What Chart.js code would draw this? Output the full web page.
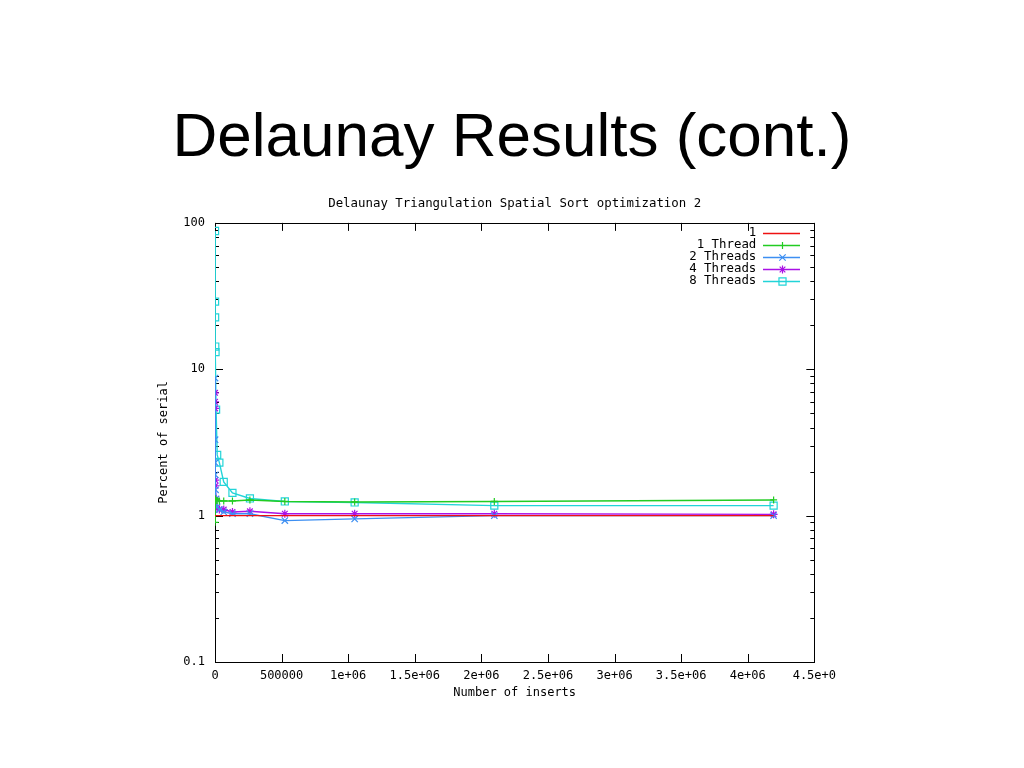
<!DOCTYPE html>
<html lang="en">
<head>
  <meta charset="UTF-8" />
  <title>Delaunay Results (cont.)</title>
  <script src="https://cdn.jsdelivr.net/npm/chart.js"></script>
  <style>
    body { margin: 0; width: 1024px; height: 768px; background: #fff; position: relative; overflow: hidden; }
    h1 { position: absolute; left: 0; top: 104px; width: 1024px; margin: 0; text-align: center;
         font: normal 62px/62px "Liberation Sans", Arial, sans-serif; color: #000; }
    #wrap { position: absolute; left: 140px; top: 190px; width: 703px; height: 520px; }
  </style>
</head>
<body>
  <h1>Delaunay Results (cont.)</h1>
  <div id="wrap"><canvas id="chart"></canvas></div>

  <script>
    // number of inserts (x) and percent of serial (y) per series
    const insertCounts = [256, 512, 1024, 2048, 4096, 8192, 16384, 32768, 65536, 131072, 262144, 524288, 1048576, 2097152, 4194304];
    const serialBaseline = [1, 1, 1, 1, 1, 1, 1, 1, 1, 1, 1, 1, 1, 1, 1];
    const oneThread    = [0.9, 1.3, 1.3, 1.28, 1.27, 1.27, 1.27, 1.26, 1.26, 1.26, 1.28, 1.25, 1.24, 1.25, 1.28];
    const twoThreads   = [8.7, 3.3, 2.3, 1.9, 1.5, 1.3, 1.15, 1.1, 1.06, 1.03, 1.03, 0.925, 0.95, 1.0, 1.0];
    const fourThreads  = [6.9, 6.0, 5.4, 1.75, 1.6, 1.3, 1.12, 1.1, 1.1, 1.06, 1.07, 1.03, 1.03, 1.03, 1.02];
    const eightThreads = [88, 29, 22.6, 14.3, 13.1, 5.3, 2.6, 2.3, 1.7, 1.43, 1.31, 1.25, 1.23, 1.17, 1.17];

    const seriesLabels = ['1', '1 Thread', '2 Threads', '4 Threads', '8 Threads'];
    const xTickValues = [0, 500000, 1000000, 1500000, 2000000, 2500000, 3000000, 3500000, 4000000, 4500000];
    const xTickLabels = ['0', '500000', '1e+06', '1.5e+06', '2e+06', '2.5e+06', '3e+06', '3.5e+06', '4e+06', '4.5e+0'];
    const yTickValues = [0.1, 1, 10, 100];
    const yTickLabels = ['0.1', '1', '10', '100'];

    const MONO = '"DejaVu Sans Mono", "Liberation Mono", monospace';
    const toPoints = ys => insertCounts.map((x, i) => ({ x, y: ys[i] }));

    function series(label, ys, color, style, radius) {
      return {
        label, data: toPoints(ys),
        borderColor: color, borderWidth: 1.4, tension: 0,
        pointStyle: style || false, pointRadius: radius || 0,
        pointBorderColor: color, pointBackgroundColor: 'rgba(0,0,0,0)', pointBorderWidth: 1.2
      };
    }

    // gnuplot border + inward ticks on all sides
    const gnuplotFrame = {
      id: 'gnuplotFrame',
      beforeDatasetsDraw(chart) {
        const { ctx, chartArea: a, scales: { x, y } } = chart;
        ctx.save();
        ctx.strokeStyle = '#000';
        ctx.lineWidth = 1;
        ctx.beginPath();
        xTickValues.forEach(v => {
          const px = Math.round(x.getPixelForValue(v)) + 0.5;
          ctx.moveTo(px, a.bottom); ctx.lineTo(px, a.bottom - 8);
          ctx.moveTo(px, a.top);    ctx.lineTo(px, a.top + 8);
        });
        yTickValues.forEach((d, k) => {
          const steps = k < yTickValues.length - 1 ? 9 : 1;
          for (let m = 1; m <= steps; m++) {
            const py = Math.round(y.getPixelForValue(m * d)) + 0.5;
            const len = m === 1 ? 8 : 4;
            ctx.moveTo(a.left, py);  ctx.lineTo(a.left + len, py);
            ctx.moveTo(a.right, py); ctx.lineTo(a.right - len, py);
          }
        });
        ctx.stroke();
        ctx.strokeRect(Math.round(a.left) + 0.5, Math.round(a.top) + 0.5, Math.round(a.width), Math.round(a.height));
        ctx.restore();
      }
    };

    // gnuplot-style key: right aligned text, sample line with marker to its right
    const gnuplotKey = {
      id: 'gnuplotKey',
      afterDatasetsDraw(chart) {
        const { ctx, chartArea: a } = chart;
        ctx.save();
        ctx.font = '12.4px ' + MONO;
        ctx.textAlign = 'right';
        ctx.textBaseline = 'middle';
        chart.data.datasets.forEach((ds, i) => {
          const yy = Math.round(a.top + 10 + i * 12);
          ctx.fillStyle = '#000';
          ctx.fillText(ds.label, a.right - 58, yy);
          ctx.strokeStyle = ds.borderColor;
          ctx.lineWidth = 1.4;
          ctx.beginPath();
          ctx.moveTo(Math.round(a.right - 51), yy + 0.5);
          ctx.lineTo(Math.round(a.right - 14), yy + 0.5);
          ctx.stroke();
          if (ds.pointStyle && Chart.helpers && Chart.helpers.drawPoint) {
            ctx.lineWidth = 1.2;
            ctx.fillStyle = 'rgba(0,0,0,0)';
            Chart.helpers.drawPoint(ctx, { pointStyle: ds.pointStyle, radius: ds.pointRadius, rotation: 0, borderWidth: 1.2 },
              Math.round(a.right - 32) + 0.5, yy + 0.5);
          }
        });
        ctx.restore();
      }
    };

    new Chart(document.getElementById('chart'), {
      type: 'line',
      data: {
        datasets: [
          series(seriesLabels[0], serialBaseline, '#ee1111'),
          series(seriesLabels[1], oneThread, '#22cc22', 'cross', 3.5),
          series(seriesLabels[2], twoThreads, '#3d8ff2', 'crossRot', 4.5),
          series(seriesLabels[3], fourThreads, '#aa11e6', 'star', 4),
          series(seriesLabels[4], eightThreads, '#22d4d8', 'rect', 5)
        ]
      },
      options: {
        responsive: true,
        maintainAspectRatio: false,
        animation: false,
        layout: { padding: { left: 0, right: 17, top: 0, bottom: 0 } },
        plugins: {
          legend: { display: false },
          tooltip: { enabled: false },
          title: {
            display: true,
            fullSize: false,
            text: 'Delaunay Triangulation Spatial Sort optimization 2',
            color: '#000',
            font: { family: MONO, size: 12.4, weight: 'normal' },
            padding: { top: 6, bottom: 12 }
          }
        },
        scales: {
          x: {
            type: 'linear', min: 0, max: 4500000,
            afterBuildTicks: s => { s.ticks = xTickValues.map(v => ({ value: v })); },
            afterFit: s => { s.height = 48; },
            grid: { display: false, drawTicks: false },
            border: { display: false },
            ticks: {
              color: '#000', padding: 7, maxRotation: 0, autoSkip: false,
              font: { family: MONO, size: 12 },
              callback: (v, i) => xTickLabels[i]
            },
            title: {
              display: true, text: 'Number of inserts', color: '#000',
              font: { family: MONO, size: 12 }, padding: { top: 10, bottom: 10 }
            }
          },
          y: {
            type: 'logarithmic', min: 0.1, max: 100,
            afterBuildTicks: s => { s.ticks = yTickValues.map(v => ({ value: v })); },
            afterFit: s => { s.width = 75; },
            grid: { display: false, drawTicks: false },
            border: { display: false },
            ticks: {
              color: '#000', padding: 10,
              font: { family: MONO, size: 12 },
              callback: (v, i) => yTickLabels[i]
            },
            title: {
              display: true, text: 'Percent of serial', color: '#000',
              font: { family: MONO, size: 12 }, padding: { top: 17, bottom: 17 }
            }
          }
        }
      },
      plugins: [gnuplotFrame, gnuplotKey]
    });
  </script>
</body>
</html>
